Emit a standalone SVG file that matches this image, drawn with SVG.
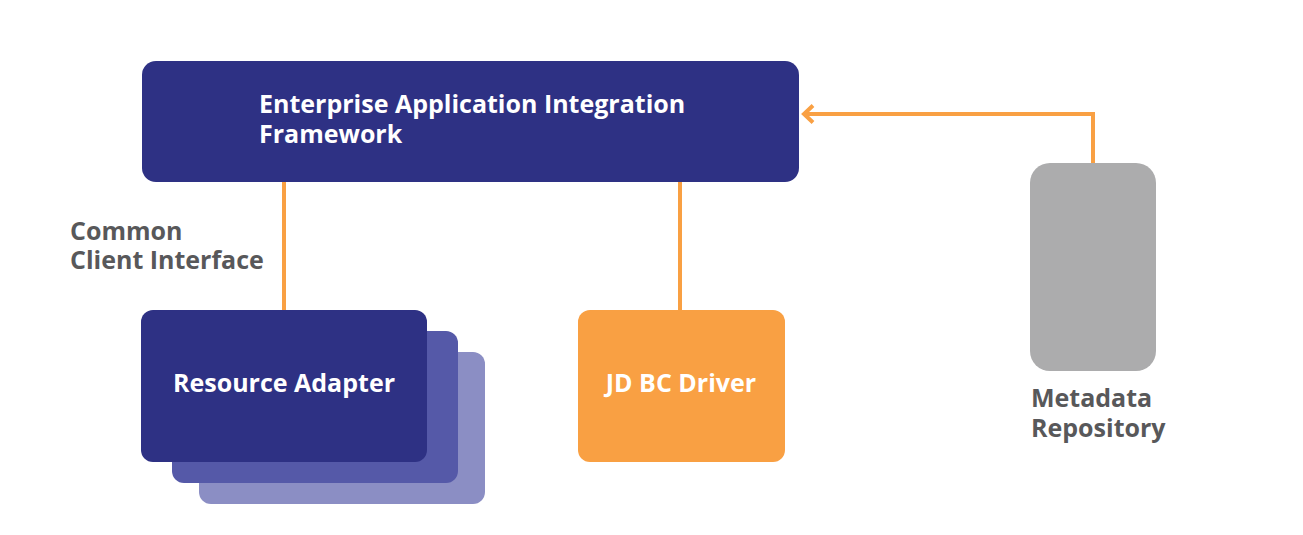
<svg xmlns="http://www.w3.org/2000/svg" width="1303" height="535" viewBox="0 0 1303 535">
<defs>
<style>
.t{font-family:"Open Sans","Noto Sans","Liberation Sans",sans-serif;font-weight:700;font-size:25px}
.w{fill:#ffffff}
.g{fill:#58585a}
.c{fill:none;stroke:#f9a043;stroke-width:4}
</style>
<marker id="ah" markerWidth="16" markerHeight="22" refX="12" refY="10" orient="auto" markerUnits="userSpaceOnUse" overflow="visible">
<path d="M3,1.5 L12,10 L3,18.5" fill="none" stroke="#f9a043" stroke-width="4"/>
</marker>
</defs>
<rect width="1303" height="535" fill="#ffffff"/>
<g id="connectors">
<line class="c" x1="284" y1="182" x2="284" y2="311"/>
<line class="c" x1="680" y1="182" x2="680" y2="311"/>
<polyline class="c" points="1093,164 1093,114 804,114" marker-end="url(#ah)"/>
</g>
<g id="eaif">
<rect x="142" y="61" width="657" height="121" rx="14" fill="#2e3184"/>
<text class="t w" x="259" y="113">Enterprise Application Integration</text>
<text class="t w" x="259" y="143">Framework</text>
</g>
<g id="cci-label">
<text class="t g" x="70" y="240">Common</text>
<text class="t g" x="70" y="269">Client Interface</text>
</g>
<g id="resource-adapter">
<rect x="199" y="352" width="286" height="152" rx="12" fill="#8b8ec4"/>
<rect x="172" y="331" width="286" height="152" rx="12" fill="#5559a8"/>
<rect x="141" y="310" width="286" height="152" rx="12" fill="#2e3184"/>
<text class="t w" x="284" y="392" text-anchor="middle">Resource Adapter</text>
</g>
<g id="jdbc-driver">
<rect x="578" y="310" width="207" height="152" rx="12" fill="#f9a043"/>
<text class="t w" x="681" y="392" text-anchor="middle">JD BC Driver</text>
</g>
<g id="metadata-repository">
<rect x="1030" y="163" width="126" height="208" rx="20" fill="#acacad"/>
<text class="t g" x="1031" y="407">Metadata</text>
<text class="t g" x="1031" y="437">Repository</text>
</g>
</svg>
